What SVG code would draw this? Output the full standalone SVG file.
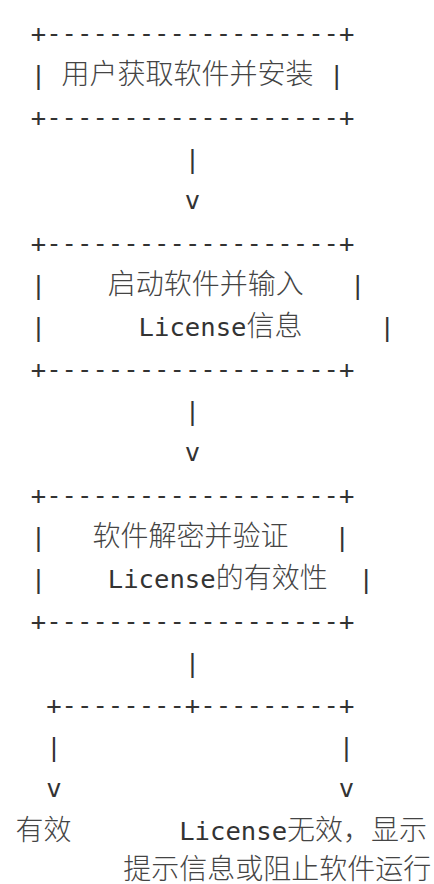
<svg xmlns="http://www.w3.org/2000/svg" width="434" height="884" viewBox="0 0 434 884">
<style>
  .m { font-family: "DejaVu Sans Mono", "Liberation Mono", monospace; font-size: 25.6px; fill: #333; }
  .c { font-family: "Noto Sans CJK SC", "Noto Sans", sans-serif; font-size: 28px; font-weight: 300; fill: #444; }
  text { white-space: pre; }
</style>
<rect width="434" height="884" fill="#ffffff"/>
<g id="node-install">
  <text class="m" x="30.8" y="42">+-------------------+</text>
  <text class="m" x="30.8" y="84">|</text>
  <text class="c" x="61.6" y="84">用户获取软件并安装</text>
  <text class="m" x="329" y="84">|</text>
  <text class="m" x="30.8" y="126">+-------------------+</text>
</g>
<g id="node-start">
  <text class="m" x="30.8" y="252">+-------------------+</text>
  <text class="m" x="30.8" y="294">|</text>
  <text class="c" x="107.8" y="294">启动软件并输入</text>
  <text class="m" x="350" y="294">|</text>
  <text class="m" x="30.8" y="336">|</text>
  <text y="336"><tspan class="m" x="138.6">License</tspan><tspan class="c">信息</tspan></text>
  <text class="m" x="379.4" y="336">|</text>
  <text class="m" x="30.8" y="378">+-------------------+</text>
</g>
<g id="node-verify">
  <text class="m" x="30.8" y="504">+-------------------+</text>
  <text class="m" x="30.8" y="546">|</text>
  <text class="c" x="92.4" y="546">软件解密并验证</text>
  <text class="m" x="334.6" y="546">|</text>
  <text class="m" x="30.8" y="588">|</text>
  <text y="588"><tspan class="m" x="107.8">License</tspan><tspan class="c">的有效性</tspan></text>
  <text class="m" x="358.4" y="588">|</text>
  <text class="m" x="30.8" y="630">+-------------------+</text>
</g>
<g id="node-valid">
  <text class="c" x="15.4" y="840">有效</text>
</g>
<g id="node-invalid">
  <text y="840"><tspan class="m" x="179.2">License</tspan><tspan class="c">无效，显示</tspan></text>
  <text class="c" x="123.2" y="879">提示信息或阻止软件运行</text>
</g>
<g id="connectors">
  <text class="m" x="184.8" y="168">|</text>
  <text class="m" x="184.8" y="209">v</text>
  <text class="m" x="184.8" y="420">|</text>
  <text class="m" x="184.8" y="461">v</text>
  <text class="m" x="184.8" y="672">|</text>
  <text class="m" x="46.2" y="714">+--------+---------+</text>
  <text class="m" x="46.2" y="756">|</text>
  <text class="m" x="338.8" y="756">|</text>
  <text class="m" x="46.2" y="797">v</text>
  <text class="m" x="338.8" y="797">v</text>
</g>
</svg>
